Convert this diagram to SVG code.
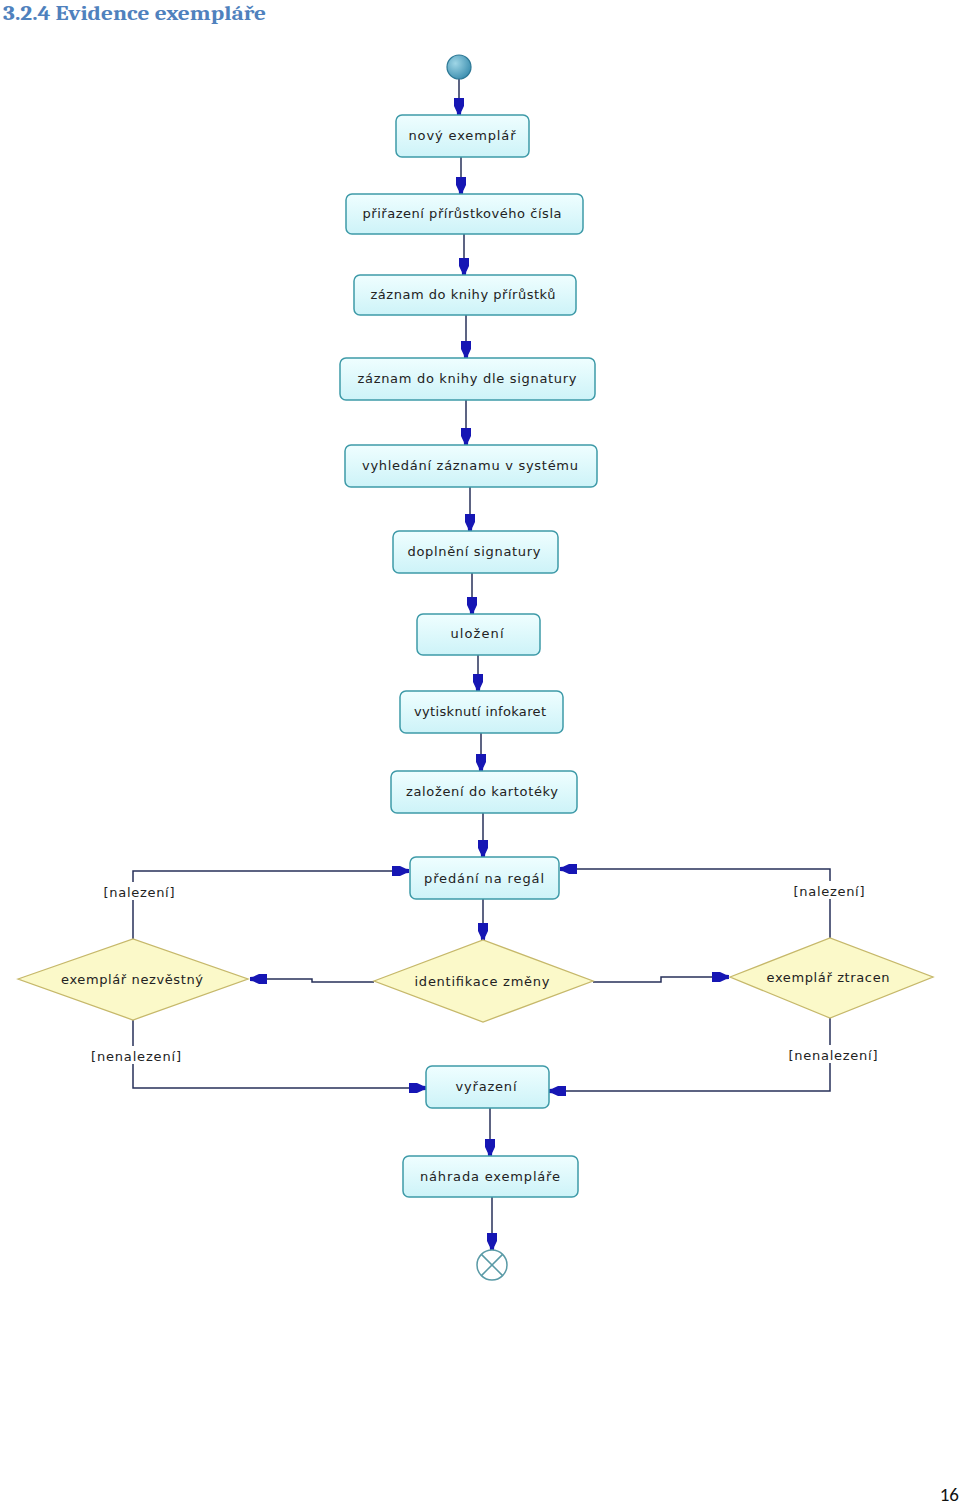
<svg xmlns="http://www.w3.org/2000/svg" width="960" height="1503" viewBox="0 0 960 1503">
<defs>
<linearGradient id="boxg" x1="0" y1="0" x2="0" y2="1">
<stop offset="0" stop-color="#effeff"/>
<stop offset="1" stop-color="#cdf3f8"/>
</linearGradient>
<radialGradient id="startg" cx="0.35" cy="0.35" r="0.7">
<stop offset="0" stop-color="#9fd6e6"/>
<stop offset="1" stop-color="#3d8fb0"/>
</radialGradient>
<marker id="arr" markerUnits="userSpaceOnUse" viewBox="-18 -6 20 12" refX="0" refY="0" markerWidth="20" markerHeight="12" orient="auto">
<path d="M-17,-5 L-9,-5 L-3,-2.2 L0,-2 L0,2 L-3,2.2 L-9,5 L-17,5 Z" fill="#1616b4"/>
</marker>
</defs>
<style>
.box{fill:url(#boxg);stroke:#3e9aa8;stroke-width:1.5}
.dia{fill:#fbf9c9;stroke:#c6b86a;stroke-width:1.3}
.t{font-family:"DejaVu Sans",sans-serif;font-size:13px;fill:#222;text-anchor:middle}
.lab{font-family:"DejaVu Sans",sans-serif;font-size:13px;fill:#222;text-anchor:middle}
.c{fill:none;stroke:#27305a;stroke-width:1.5;marker-end:url(#arr)}
.bg{fill:#ffffff}
</style>
<rect width="960" height="1503" fill="#ffffff"/>
<text x="3" y="20" font-family="Cambria,'DejaVu Serif','Liberation Serif',serif" font-weight="bold" font-size="21" fill="#4f81bd" textLength="263" lengthAdjust="spacingAndGlyphs">3.2.4 Evidence exempláře</text>
<text x="959" y="1501" font-family="Carlito,'Liberation Sans',sans-serif" font-size="19" fill="#111" text-anchor="end">16</text>

<g id="connectors">
<path class="c" d="M459,79 V115"/>
<path class="c" d="M461,157 V194"/>
<path class="c" d="M464,234 V275"/>
<path class="c" d="M466,315 V358"/>
<path class="c" d="M466,400 V445"/>
<path class="c" d="M470,487 V531"/>
<path class="c" d="M472,573 V614"/>
<path class="c" d="M478,655 V691"/>
<path class="c" d="M481,733 V771"/>
<path class="c" d="M483,813 V857"/>
<path class="c" d="M483,899 V940"/>
<path class="c" d="M374,982 H312 V979 H250"/>
<path class="c" d="M593,982 H661 V977 H729"/>
<path class="c" d="M133,939 V871 H409"/>
<path class="c" d="M830,938 V869 H560"/>
<path class="c" d="M133,1020 V1088 H426"/>
<path class="c" d="M830,1018 V1091 H549"/>
<path class="c" d="M490,1108 V1156"/>
<path class="c" d="M492,1197 V1250"/>
<g id="guards">
<rect class="bg" x="102" y="882" width="76" height="18"/>
<text class="lab" x="139" y="897" textLength="71" lengthAdjust="spacing">[nalezení]</text>
<rect class="bg" x="791" y="881" width="76" height="18"/>
<text class="lab" x="829" y="896" textLength="71" lengthAdjust="spacing">[nalezení]</text>
<rect class="bg" x="89" y="1046" width="95" height="18"/>
<text class="lab" x="136" y="1061" textLength="90" lengthAdjust="spacing">[nenalezení]</text>
<rect class="bg" x="787" y="1045" width="94" height="18"/>
<text class="lab" x="833" y="1060" textLength="89" lengthAdjust="spacing">[nenalezení]</text>
</g>
</g>

<g id="start"><circle cx="459" cy="67" r="12" fill="url(#startg)" stroke="#2d7895" stroke-width="1.2"/></g>

<g id="n1"><rect class="box" x="396" y="115" width="133" height="42" rx="6"/><text class="t" x="462" y="140" textLength="107" lengthAdjust="spacing">nový exemplář</text></g>
<g id="n2"><rect class="box" x="346" y="194" width="237" height="40" rx="6"/><text class="t" x="462" y="218" textLength="199" lengthAdjust="spacing">přiřazení přírůstkového čísla</text></g>
<g id="n3"><rect class="box" x="354" y="275" width="222" height="40" rx="6"/><text class="t" x="463" y="299" textLength="185" lengthAdjust="spacing">záznam do knihy přírůstků</text></g>
<g id="n4"><rect class="box" x="340" y="358" width="255" height="42" rx="6"/><text class="t" x="467" y="383" textLength="219" lengthAdjust="spacing">záznam do knihy dle signatury</text></g>
<g id="n5"><rect class="box" x="345" y="445" width="252" height="42" rx="6"/><text class="t" x="470" y="470" textLength="216" lengthAdjust="spacing">vyhledání záznamu v systému</text></g>
<g id="n6"><rect class="box" x="393" y="531" width="165" height="42" rx="6"/><text class="t" x="474" y="556" textLength="133" lengthAdjust="spacing">doplnění signatury</text></g>
<g id="n7"><rect class="box" x="417" y="614" width="123" height="41" rx="6"/><text class="t" x="477" y="638" textLength="53" lengthAdjust="spacing">uložení</text></g>
<g id="n8"><rect class="box" x="400" y="691" width="163" height="42" rx="6"/><text class="t" x="480" y="716" textLength="132" lengthAdjust="spacing">vytisknutí infokaret</text></g>
<g id="n9"><rect class="box" x="391" y="771" width="186" height="42" rx="6"/><text class="t" x="482" y="796" textLength="152" lengthAdjust="spacing">založení do kartotéky</text></g>
<g id="n10"><rect class="box" x="410" y="857" width="149" height="42" rx="6"/><text class="t" x="484" y="883" textLength="120" lengthAdjust="spacing">předání na regál</text></g>

<g id="d1"><polygon class="dia" points="374,981 483,940 593,981 483,1022"/><text class="t" x="482" y="986" textLength="135" lengthAdjust="spacing">identifikace změny</text></g>
<g id="d2"><polygon class="dia" points="18,979 133,939 248,979 133,1020"/><text class="t" x="132" y="984" textLength="142" lengthAdjust="spacing">exemplář nezvěstný</text></g>
<g id="d3"><polygon class="dia" points="730,977 830,938 933,977 830,1018"/><text class="t" x="828" y="982" textLength="123" lengthAdjust="spacing">exemplář ztracen</text></g>

<g id="n11"><rect class="box" x="426" y="1066" width="123" height="42" rx="6"/><text class="t" x="486" y="1091" textLength="61" lengthAdjust="spacing">vyřazení</text></g>
<g id="n12"><rect class="box" x="403" y="1156" width="175" height="41" rx="6"/><text class="t" x="490" y="1181" textLength="140" lengthAdjust="spacing">náhrada exempláře</text></g>

<g id="end"><circle cx="492" cy="1265" r="15" fill="#ffffff" stroke="#5a9aa6" stroke-width="1.5"/><path d="M481.4,1254.4 L502.6,1275.6 M502.6,1254.4 L481.4,1275.6" stroke="#5a9aa6" stroke-width="1.5"/></g>
</svg>
